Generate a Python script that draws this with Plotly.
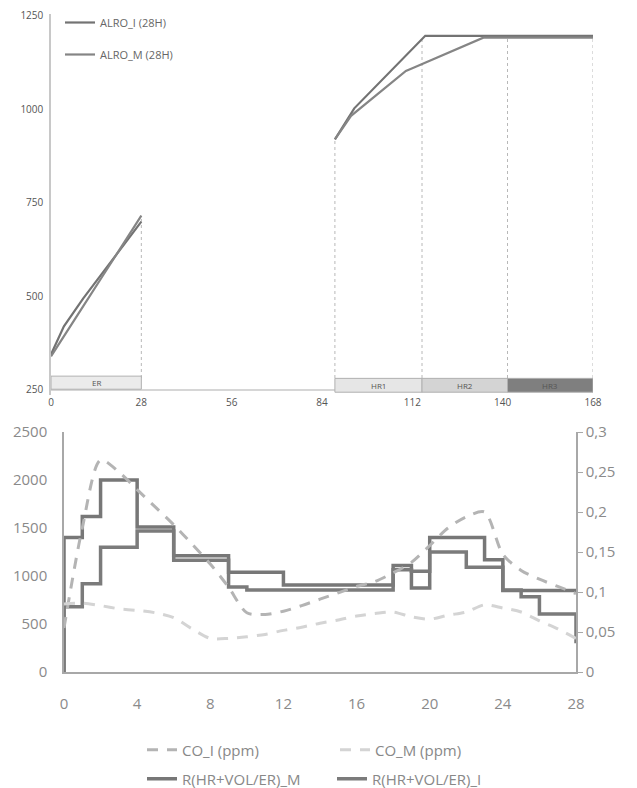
import numpy as np
import plotly.graph_objects as go

# ---------------- top chart data ----------------
er_hours = [0, 4, 10, 17, 22, 28]
alro_i_er = [345, 420, 495, 575, 632, 700]
alro_m_er = [340, 395, 474, 568, 635, 716]

hr_hours_i = [88, 94, 116, 168]
alro_i_hr = [920, 1003, 1197, 1197]
hr_hours_m = [88, 93, 110, 112, 134, 168]
alro_m_hr = [920, 983, 1103, 1110, 1192, 1192]

phase_names = ["ER", "HR1", "HR2", "HR3"]
phase_start = [0, 88, 115, 141.5]
phase_end = [28, 115, 141.5, 168]
phase_low = [252, 244, 244, 244]
phase_high = [287, 281, 281, 281]
phase_fill = ["#ebebeb", "#e6e6e6", "#d4d4d4", "#7f7f7f"]

top_xticks = [0, 28, 56, 84, 112, 140, 168]
top_yticks = [250, 500, 750, 1000, 1250]

# ---------------- bottom chart data ----------------
hours = list(range(29))
co_i = [0.055, 0.18, 0.265, 0.25, 0.228, 0.206, 0.184, 0.16, 0.135, 0.106,
        0.074, 0.072, 0.076, 0.083, 0.091, 0.099, 0.107, 0.113, 0.124, 0.137,
        0.158, 0.18, 0.194, 0.2, 0.147, 0.127, 0.116, 0.107, 0.098]
co_m = [0.085, 0.086, 0.083, 0.079, 0.077, 0.074, 0.068, 0.054, 0.042, 0.042,
        0.044, 0.047, 0.052, 0.056, 0.061, 0.065, 0.07, 0.073, 0.075, 0.069,
        0.066, 0.071, 0.075, 0.084, 0.08, 0.075, 0.064, 0.054, 0.042]

# step series: value held over each hour interval [h, h+1]
step_x = [0] + hours
r_m = [0, 1400, 1620, 2000, 2000, 1510, 1510, 1210, 1210, 1210, 1040, 1040, 1040,
       905, 905, 905, 905, 905, 905, 1110, 875, 1400, 1400, 1400, 1170, 850, 850,
       850, 850, 850]
r_i = [0, 680, 920, 1300, 1300, 1470, 1470, 1165, 1165, 1165, 885, 855, 855,
       855, 855, 855, 855, 855, 855, 1065, 1050, 1250, 1250, 1090, 1090, 855, 785,
       605, 605, 300]

bottom_xticks = [0, 4, 8, 12, 16, 20, 24, 28]
left_ticks = [0, 500, 1000, 1500, 2000, 2500]
right_ticks = [0, 0.05, 0.1, 0.15, 0.2, 0.25, 0.3]
right_labels = ["0", "0,05", "0,1", "0,15", "0,2", "0,25", "0,3"]

FONT = "Open Sans"
OFF = 8            # page body margin of the html page
W, H = 637 - OFF, 788 - OFF

fig = go.Figure()

# top chart lines
fig.add_trace(go.Scatter(
    x=er_hours + [None] + hr_hours_i, y=alro_i_er + [None] + alro_i_hr,
    mode="lines", name="ALRO_I (28H)", line=dict(color="#737373", width=2.2),
    xaxis="x", yaxis="y", legend="legend", legendgroup="a", connectgaps=False))
fig.add_trace(go.Scatter(
    x=er_hours + [None] + hr_hours_m, y=alro_m_er + [None] + alro_m_hr,
    mode="lines", name="ALRO_M (28H)", line=dict(color="#858585", width=2.2),
    xaxis="x", yaxis="y", legend="legend", legendgroup="b", connectgaps=False))

# bottom chart
dash = "11px,9px"
fig.add_trace(go.Scatter(x=hours, y=co_i, mode="lines", name="CO_I (ppm)",
                         line=dict(color="#b4b4b4", width=3, dash=dash, shape="spline", smoothing=0.8),
                         xaxis="x2", yaxis="y3", legend="legend2"))
fig.add_trace(go.Scatter(x=hours, y=co_m, mode="lines", name="CO_M (ppm)",
                         line=dict(color="#d4d4d4", width=3, dash=dash, shape="spline", smoothing=0.8),
                         xaxis="x2", yaxis="y3", legend="legend2"))
fig.add_trace(go.Scatter(x=step_x, y=r_m, mode="lines", name="R(HR+VOL/ER)_M",
                         line=dict(color="#777777", width=3.5, shape="hv"),
                         xaxis="x2", yaxis="y2", legend="legend3"))
fig.add_trace(go.Scatter(x=step_x, y=r_i, mode="lines", name="R(HR+VOL/ER)_I",
                         line=dict(color="#7b7b7b", width=3.5, shape="hv"),
                         xaxis="x2", yaxis="y2", legend="legend3"))

shapes = []
annotations = []
# phase bars
for name, s, e, lo, hi, fc in zip(phase_names, phase_start, phase_end, phase_low, phase_high, phase_fill):
    shapes.append(dict(type="rect", xref="x", yref="y", x0=s, x1=e, y0=lo, y1=hi,
                       fillcolor=fc, line=dict(color="#b0b0b0", width=1), layer="above"))
    annotations.append(dict(x=(s + e) / 2, y=(lo + hi) / 2, xref="x", yref="y", text=name,
                            showarrow=False, font=dict(family=FONT, size=8, color="#555555")))

# vertical dotted drop lines at phase boundaries
def series_top(xv):
    vals = []
    for xs, ys in ((er_hours, alro_i_er), (er_hours, alro_m_er),
                   (hr_hours_i, alro_i_hr), (hr_hours_m, alro_m_hr)):
        if xs[0] <= xv <= xs[-1]:
            vals.append(float(np.interp(xv, xs, ys)))
    return max(vals)

for xv in [phase_end[0], phase_start[1], phase_end[1], phase_end[2], phase_end[3]]:
    shapes.append(dict(type="line", xref="x", yref="y", x0=xv, x1=xv, y0=282, y1=series_top(xv),
                       line=dict(color="#b8b8b8", width=1, dash="dot"), layer="below"))

# x axis baseline of the top chart
shapes.append(dict(type="line", xref="x", yref="y", x0=0, x1=168, y0=250, y1=250,
                   line=dict(color="#c8c8c8", width=1.5), layer="below"))

# layout geometry (window pixels -> paper)
def px(v):
    return (v - OFF) / W

def py(v):
    return 1 - (v - OFF) / H

fig.update_layout(
    width=W, height=H, margin=dict(l=0, r=0, t=0, b=0, autoexpand=False),
    paper_bgcolor="white", plot_bgcolor="white",
    font=dict(family=FONT, color="#666666"),
    shapes=shapes, annotations=annotations,
    xaxis=dict(domain=[px(51), px(593)], range=[0, 168], tickvals=top_xticks,
               showgrid=False, zeroline=False, showline=False, ticks="",
               tickfont=dict(size=10, color="#555555"), anchor="y",
               ticklabeloverflow="allow"),
    yaxis=dict(domain=[py(395.2), py(14.1)], range=[236, 1255], tickvals=top_yticks,
               showgrid=False, zeroline=False, showline=True, linecolor="#c8c8c8", linewidth=1.5,
               ticks="", tickfont=dict(size=10, color="#555555"), anchor="x",
               ticklabelstandoff=4, ticklabeloverflow="allow"),
    xaxis2=dict(domain=[px(64), px(576)], range=[0, 28], tickvals=bottom_xticks,
                showgrid=False, zeroline=False, showline=True, linecolor="#a8a8a8", linewidth=1.5,
                ticks="", tickfont=dict(size=15, color="#8a8a8a"), anchor="y2",
                ticklabelstandoff=17),
    yaxis2=dict(domain=[py(672), py(432)], range=[0, 2500], tickvals=left_ticks,
                showgrid=False, zeroline=False, showline=True, linecolor="#a8a8a8", linewidth=1.5,
                ticks="", tickfont=dict(size=15, color="#8a8a8a"), anchor="x2",
                ticklabelstandoff=12),
    yaxis3=dict(domain=[py(672), py(432)], range=[0, 0.3], tickvals=right_ticks,
                ticktext=right_labels, overlaying="y2", side="right", anchor="x2",
                showgrid=False, zeroline=False, showline=True, linecolor="#a8a8a8", linewidth=1.5,
                ticks="outside", ticklen=5, tickcolor="#a8a8a8",
                tickfont=dict(size=15, color="#8a8a8a")),
    legend=dict(x=px(60), y=py(8), xanchor="left", yanchor="top", bgcolor="rgba(0,0,0,0)",
                font=dict(family=FONT, size=11, color="#666666"), tracegroupgap=13,
                traceorder="grouped"),
    legend2=dict(x=px(142), y=py(750), xanchor="left", yanchor="middle", orientation="h",
                 bgcolor="rgba(0,0,0,0)", entrywidth=148,
                 font=dict(family=FONT, size=15, color="#888888")),
    legend3=dict(x=px(142), y=py(779), xanchor="left", yanchor="middle", orientation="h",
                 bgcolor="rgba(0,0,0,0)", entrywidth=145,
                 font=dict(family=FONT, size=15, color="#888888")),
    showlegend=True,
)

fig.write_html("out.html")
